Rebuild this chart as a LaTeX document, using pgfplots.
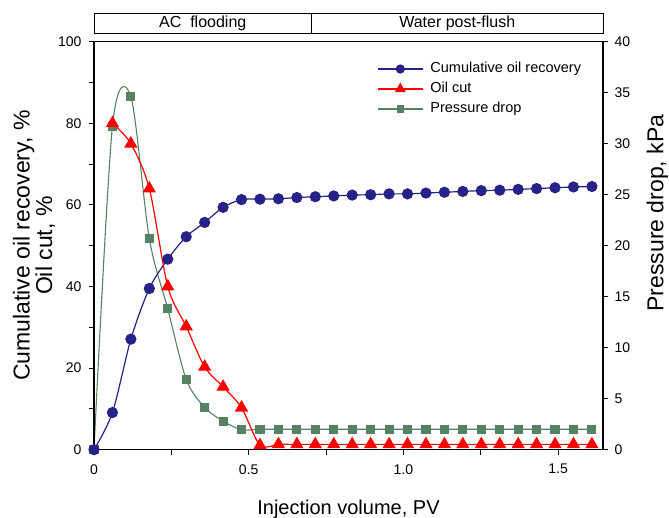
\documentclass[border=0pt]{standalone}
\usepackage{fontspec}
\setmainfont{Liberation Sans}
\usepackage{pgfplots}
\usepackage{pgfplotstable}
\pgfplotsset{compat=1.18}

\definecolor{cblue}{RGB}{38,34,135}
\definecolor{cgreen}{RGB}{84,130,98}
\definecolor{cred}{RGB}{255,0,0}

% Cumulative oil recovery, %
\pgfplotstableread{
x y
0.0000 0.0
0.0596 9.1
0.1192 27.1
0.1788 39.5
0.2384 46.7
0.2980 52.2
0.3576 55.7
0.4172 59.4
0.4768 61.3
0.5364 61.4
0.5960 61.5
0.6556 61.8
0.7152 62.0
0.7748 62.2
0.8344 62.4
0.8940 62.5
0.9536 62.7
1.0132 62.7
1.0728 62.9
1.1324 63.1
1.1920 63.3
1.2516 63.5
1.3112 63.6
1.3708 63.8
1.4304 64.0
1.4900 64.2
1.5496 64.4
1.6092 64.5
}\rectab

% Oil cut, %
\pgfplotstableread{
x y
0.0596 80.0
0.1192 75.0
0.1788 64.0
0.2384 40.0
0.2980 30.2
0.3576 20.3
0.4172 15.4
0.4768 10.3
0.5364 1.1
0.5960 1.3
0.6556 1.3
0.7152 1.3
0.7748 1.3
0.8344 1.3
0.8940 1.3
0.9536 1.3
1.0132 1.3
1.0728 1.3
1.1324 1.3
1.1920 1.3
1.2516 1.3
1.3112 1.3
1.3708 1.3
1.4304 1.3
1.4900 1.3
1.5496 1.3
1.6092 1.3
}\cuttab

% Pressure drop, kPa
\pgfplotstableread{
x y
0.0000 0.0
0.0596 31.7
0.1192 34.6
0.1788 20.7
0.2384 13.8
0.2980 6.9
0.3576 4.15
0.4172 2.8
0.4768 1.96
0.5364 2.0
0.5960 2.0
0.6556 2.0
0.7152 2.0
0.7748 2.0
0.8344 2.0
0.8940 2.0
0.9536 2.0
1.0132 2.0
1.0728 2.0
1.1324 2.0
1.1920 2.0
1.2516 2.0
1.3112 2.0
1.3708 2.0
1.4304 2.0
1.4900 2.0
1.5496 2.0
1.6092 2.0
}\prestab

\pgfplotsset{
  common/.style={
    scale only axis, width=509pt, height=408pt,
    xmin=0, xmax=1.645,
    tick align=outside,
    major tick length=5pt, minor tick length=5pt,
    every tick/.style={black, line width=1pt},
    axis line style={black, line width=1.1pt},
    ticklabel style={font=\fontsize{14}{14}\selectfont},
    /pgf/number format/assume math mode=true,
    legend image code/.code={\draw[mark repeat=2,mark phase=2,#1] plot coordinates {(0pt,0pt) (22.5pt,0pt) (45pt,0pt)};},
  },
}

\begin{document}
\begin{tikzpicture}
% right axis: pressure drop (drawn first so it lies underneath)
\begin{axis}[
  common,
  name=raxis,
  ymin=0, ymax=40,
  axis x line=none,
  axis y line*=right,
  ytick={0,5,...,40},
  yticklabel style={xshift=3pt},
  ylabel={Pressure drop, kPa},
  ylabel style={font=\fontsize{23}{23}\selectfont, at={(axis description cs:1.107,0.58)}, anchor=center},
]
\addplot[cgreen, line width=1.1pt, smooth, mark=square*, mark size=4pt, mark options={fill=cgreen, draw=cgreen}] table[x=x, y=y] {\prestab};
\end{axis}

% left axis: recovery and oil cut
\begin{axis}[
  common,
  name=main,
  ymin=0, ymax=100,
  xtick pos=bottom, ytick pos=left,
  xtick={0,0.5,1,1.5}, xticklabels={0,0.5,1.0,1.5},
  minor xtick={0.25,0.75,1.25},
  ytick={0,20,...,100},
  minor ytick={10,30,...,90},
  xticklabel style={yshift=-6pt},
  yticklabel style={xshift=-4pt},
  xlabel={Injection volume, PV},
  xlabel style={font=\fontsize{20}{20}\selectfont, at={(axis description cs:0.5,0)}, anchor=base, yshift=-65pt},
  ylabel={Cumulative oil recovery, \%\\Oil cut, \%},
  ylabel style={font=\fontsize{23}{22.5}\selectfont, align=center, at={(axis description cs:-0.118,0.5)}, anchor=center},
  legend style={at={(axis description cs:0.556,0.950)}, anchor=north west, draw=none, fill=none,
    font=\fontsize{14.5}{15}\selectfont, legend cell align=left, row sep=6.5pt,
    inner sep=0pt, nodes={inner sep=0pt, text height=10.5pt, text depth=3pt},
    /tikz/every odd column/.append style={column sep=7pt}},
  every legend image post/.append style={mark options={scale=0.8}},
]
\addplot[cblue, line width=1.2pt, smooth, mark=*, mark size=5pt, mark options={fill=cblue, draw=cblue}] table[x=x, y=y] {\rectab};
\addlegendentry{Cumulative oil recovery}
\addplot[cred, line width=1.2pt, smooth, mark=triangle*, mark size=6.5pt, mark options={fill=cred, draw=cred}] table[x=x, y=y] {\cuttab};
\addlegendentry{Oil cut}
\addlegendimage{cgreen, line width=1.1pt, mark=square*, mark size=4pt, mark options={fill=cgreen, draw=cgreen}}
\addlegendentry{Pressure drop}
\coordinate (div) at (axis cs:0.703,100);
\end{axis}

% header box
\draw[line width=0.9pt] ([yshift=8.4pt]main.north west) rectangle ([yshift=28.4pt]main.north east);
\draw[line width=0.9pt] ([yshift=8.4pt]div) -- ([yshift=28.4pt]div);
\path ([yshift=8.4pt]main.north west) -- ([yshift=28.4pt]div) node[midway, font=\fontsize{16}{16}\selectfont] {AC\ \ flooding};
\path ([yshift=8.4pt]div) -- ([yshift=28.4pt]main.north east) node[midway, font=\fontsize{16}{16}\selectfont] {Water post-flush};

\pgfresetboundingbox
\path ([shift={(-94pt,-68pt)}]main.south west) rectangle ([shift={(66pt,41.7pt)}]main.north east);
\end{tikzpicture}
\end{document}
